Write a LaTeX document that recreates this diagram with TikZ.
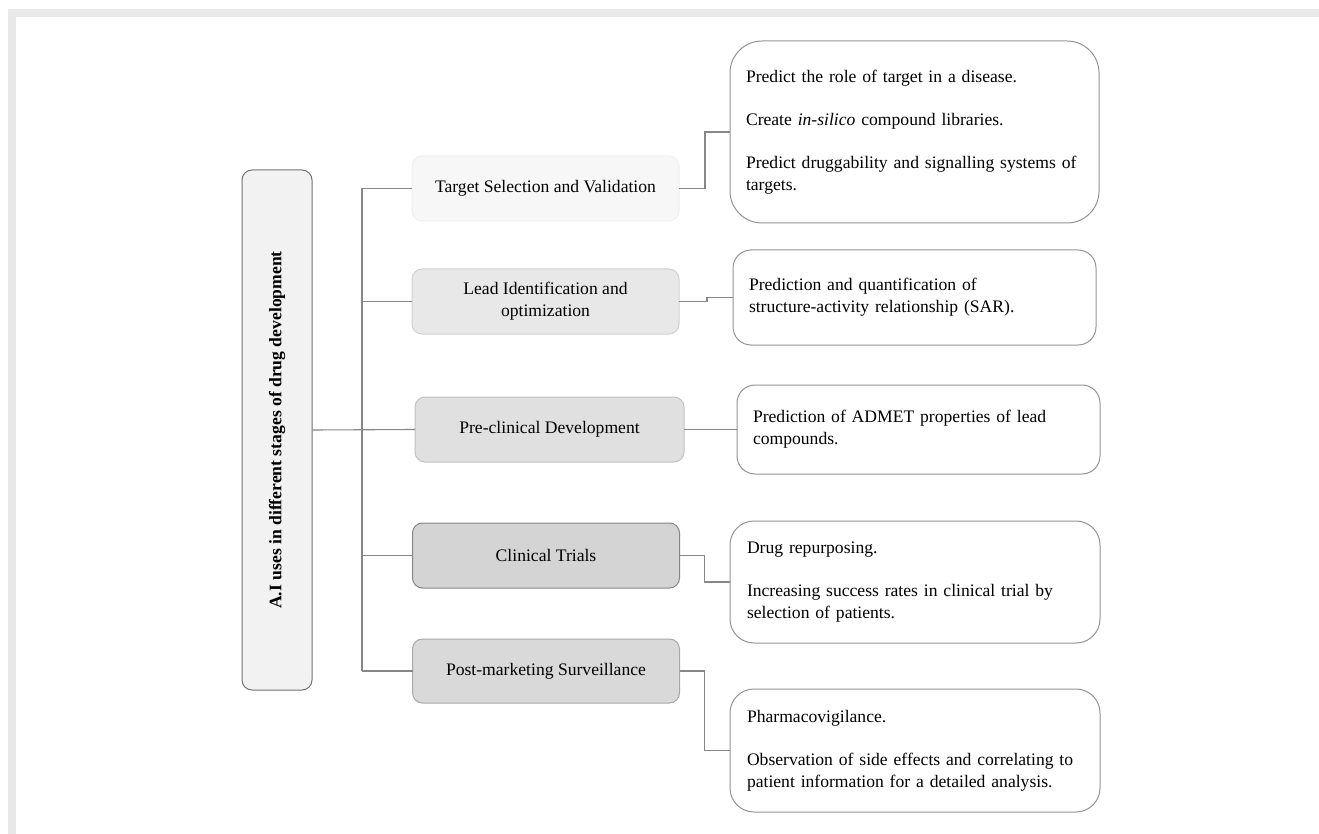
\documentclass[tikz,border=0pt]{standalone}
\usepackage{fontspec}
\setmainfont{Liberation Serif}
\usepackage{tikz}
\begin{document}
\begin{tikzpicture}[x=1pt,y=-1pt,
  every node/.style={outer sep=0pt,font=\fontsize{17.6}{22}\selectfont},
  link/.style={draw=black!47,line width=1.1pt},
  stage/.style={rounded corners=10pt,line width=1pt,minimum width=267pt,minimum height=65pt,align=center},
  detail/.style={draw=black!42,fill=white,rounded corners=18pt,line width=1pt,align=left,inner xsep=17pt}]
  \fill[black!9] (8,9) rectangle (1319,834);
  \fill[white] (16,17) rectangle (1319,834);
  \useasboundingbox (0,0) rectangle (1319,834);
  \node[draw=black!55,fill=black!5,rounded corners=10pt,line width=1pt,rotate=90,
    minimum width=520pt,minimum height=70pt] (root) at (277,430)
    {\bfseries A.I uses in different stages of drug development};
  \node[stage,draw=black!6,fill=black!3] (target) at (545.5,188.5) {Target Selection and Validation};
  \node[stage,draw=black!18,fill=black!9] (lead) at (545.5,301.5) {Lead Identification and\\optimization};
  \node[stage,draw=black!24,fill=black!12,minimum width=269pt] (pre) at (549.5,429.5) {Pre-clinical Development};
  \node[stage,draw=black!48,fill=black!17] (clin) at (546,555.5) {Clinical Trials};
  \node[stage,draw=black!34,fill=black!15,minimum height=64pt] (post) at (546,671) {Post-marketing Surveillance};
  \node[detail,rounded corners=32pt,text width=337pt,inner xsep=16pt,minimum height=182pt] (tdet) at (914.5,132)
    {Predict the role of target in a disease.\\[21pt]
     Create \emph{in-silico} compound libraries.\\[21pt]
     Predict druggability and signalling systems of\\targets.};
  \node[detail,inner xsep=16pt,text width=331pt,minimum height=95pt] (ldet) at (914.5,297.5)
    {Prediction and quantification of\\structure-activity relationship (SAR).};
  \node[detail,inner xsep=16pt,text width=331pt,minimum height=89pt] (pdet) at (918.5,429.5)
    {Prediction of ADMET properties of lead\\compounds.};
  \node[detail,rounded corners=24pt,text width=336pt,minimum height=122pt] (cdet) at (915,582)
    {Drug repurposing.\\[21pt]
     Increasing success rates in clinical trial by\\selection of patients.};
  \node[detail,rounded corners=24pt,text width=336pt,minimum height=123pt] (sdet) at (915,750.5)
    {Pharmacovigilance.\\[21pt]
     Observation of side effects and correlating to\\patient information for a detailed analysis.};
  \coordinate (trunktop) at (362,188.5);
  \coordinate (trunkbot) at (362,671);
  \draw[link] (trunktop) -- (trunkbot);
  \draw[link] (root.south) -- (pre.west);
  \draw[link] (trunktop) -- (target.west);
  \draw[link] (lead.west -| trunktop) -- (lead.west);
  \draw[link] (clin.west -| trunktop) -- (clin.west);
  \draw[link] (trunkbot) -- (post.west);
  \draw[link] (target.east) -- ++(26,0) |- (tdet.west);
  \draw[link] (lead.east) -- ++(28,0) |- (ldet.west);
  \draw[link] (pre.east) -- (pdet.west);
  \draw[link] (clin.east) -- ++(25,0) |- (cdet.west);
  \draw[link] (post.east) -- ++(25,0) |- (sdet.west);
\end{tikzpicture}
\end{document}
